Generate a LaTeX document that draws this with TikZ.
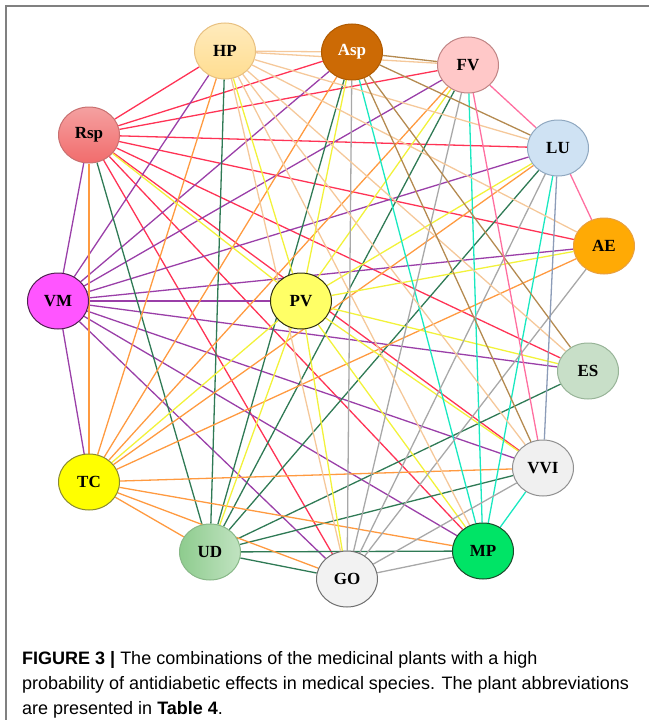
\documentclass[tikz,border=0pt]{standalone}
\usepackage{fontspec}
\setmainfont{Liberation Serif}
\newfontfamily\capfont{Liberation Sans}
\usetikzlibrary{shapes.geometric,backgrounds}

% node fills and borders
\definecolor{hpfill}{HTML}{FFDD90}
\definecolor{hpline}{HTML}{E8C080}
\definecolor{aspfill}{HTML}{CC6A05}
\definecolor{aspline}{HTML}{B05A00}
\definecolor{fvfill}{HTML}{FFC8C8}
\definecolor{fvline}{HTML}{C08585}
\definecolor{lufill}{HTML}{CFE2F3}
\definecolor{luline}{HTML}{90A8C0}
\definecolor{aefill}{HTML}{FFAA05}
\definecolor{aeline}{HTML}{E8A040}
\definecolor{rspfill}{HTML}{F07878}
\definecolor{rspline}{HTML}{C87070}
\definecolor{vmfill}{HTML}{FF55FF}
\definecolor{vmline}{HTML}{502050}
\definecolor{pvfill}{HTML}{FFFF66}
\definecolor{pvline}{HTML}{303010}
\definecolor{esfill}{HTML}{C8DFC8}
\definecolor{esline}{HTML}{98B498}
\definecolor{vvifill}{HTML}{F0F0F0}
\definecolor{vviline}{HTML}{909090}
\definecolor{mpfill}{HTML}{00E466}
\definecolor{mpline}{HTML}{1A4A2A}
\definecolor{gofill}{HTML}{F2F2F2}
\definecolor{goline}{HTML}{707070}
\definecolor{udfill}{HTML}{8ECC8E}
\definecolor{udline}{HTML}{88B888}
\definecolor{tcfill}{HTML}{FFFF00}
\definecolor{tcline}{HTML}{8A8A30}
% link colours
\definecolor{rspC}{HTML}{FF3355}
\definecolor{vmC}{HTML}{9A3FA8}
\definecolor{udC}{HTML}{2F7A55}
\definecolor{tcC}{HTML}{FF9A40}
\definecolor{pvC}{HTML}{F2F23A}
\definecolor{mpC}{HTML}{19E8C0}
\definecolor{goC}{HTML}{A8A8A8}
\definecolor{hpC}{HTML}{F5C89A}
\definecolor{aspC}{HTML}{B48A50}
\definecolor{fvC}{HTML}{FF6FA0}
\definecolor{luC}{HTML}{8C9CB8}

\begin{document}
\begin{tikzpicture}[x=1pt,y=-1pt]
\tikzstyle{plant}=[ellipse,draw,line width=1pt,minimum width=61pt,minimum height=56pt,
  inner sep=0pt,font=\fontsize{17}{17}\selectfont\bfseries]
\tikzstyle{link}=[line width=1.3pt]

\useasboundingbox (0,0) rectangle (649,720);
\draw[gray,line width=1.5pt] (6,720) -- (6,6) -- (649,6);

%% Draw plant nodes
\node[plant,top color=hpfill!60!white,bottom color=hpfill,draw=hpline] (HP) at (225,51) {HP};
\node[plant,fill=aspfill,draw=aspline,text=white] (Asp) at (352,52) {Asp};
\node[plant,fill=fvfill,draw=fvline] (FV) at (468,65) {FV};
\node[plant,fill=lufill,draw=luline] (LU) at (558,148) {LU};
\node[plant,fill=aefill,draw=aeline] (AE) at (604,246) {AE};
\node[plant,top color=rspfill!70!white,bottom color=rspfill!90!red,draw=rspline] (Rsp) at (89,135) {Rsp};
\node[plant,fill=vmfill,draw=vmline] (VM) at (58,301) {VM};
\node[plant,fill=pvfill,draw=pvline] (PV) at (301,301) {PV};
\node[plant,fill=esfill,draw=esline] (ES) at (588,371) {ES};
\node[plant,fill=vvifill,draw=vviline] (VVI) at (543,468) {VVI};
\node[plant,fill=mpfill,draw=mpline] (MP) at (483,551) {MP};
\node[plant,fill=gofill,draw=goline] (GO) at (347,579) {GO};
\node[plant,left color=udfill,right color=udfill!55!white,draw=udline] (UD) at (210,552) {UD};
\node[plant,fill=tcfill,draw=tcline] (TC) at (89,482) {TC};

%% Draw links behind the nodes
\begin{scope}[on background layer]
% Rsp
\foreach \t in {HP,Asp,FV,LU,AE,ES,VVI,MP,GO}
  \draw[link,rspC] (Rsp) -- (\t);
% VM
\foreach \t in {Rsp,HP,Asp,FV,LU,AE,PV,ES,VVI,MP,GO,TC}
  \draw[link,vmC] (VM) -- (\t);
% UD
\foreach \t in {Rsp,HP,Asp,FV,LU,ES,VVI,MP,GO}
  \draw[link,udC] (UD) -- (\t);
% TC
\foreach \t in {Rsp,HP,Asp,FV,LU,AE,VVI,MP,GO,UD}
  \draw[link,tcC] (TC) -- (\t);
% PV
\foreach \t in {Rsp,HP,Asp,FV,LU,AE,ES,VVI,MP,GO,UD,TC}
  \draw[link,pvC] (PV) -- (\t);
% MP
\foreach \t in {Asp,FV,LU,VVI}
  \draw[link,mpC] (MP) -- (\t);
% GO
\foreach \t in {Asp,FV,LU,AE,VVI,MP}
  \draw[link,goC] (GO) -- (\t);
% HP
\foreach \t in {Asp,FV,LU,AE,ES,VVI,MP,GO}
  \draw[link,hpC] (HP) -- (\t);
% Asp
\foreach \t in {FV,LU,ES,VVI}
  \draw[link,aspC] (Asp) -- (\t);
% FV, LU
\foreach \t in {LU,VVI}
  \draw[link,fvC] (FV) -- (\t);
\draw[link,fvC] (LU) -- (AE);
\draw[link,luC] (LU) -- (VVI);
\end{scope}

%% Caption
\node[anchor=north west,align=left,inner sep=0pt,
  font=\capfont\fontsize{18}{25}\selectfont] (caption) at (22,651)
  {\textbf{FIGURE 3 |} The combinations of the medicinal plants with a high\\
   probability of antidiabetic effects in medical species. The plant abbreviations\\
   are presented in \textbf{Table 4}.};
\end{tikzpicture}
\end{document}
